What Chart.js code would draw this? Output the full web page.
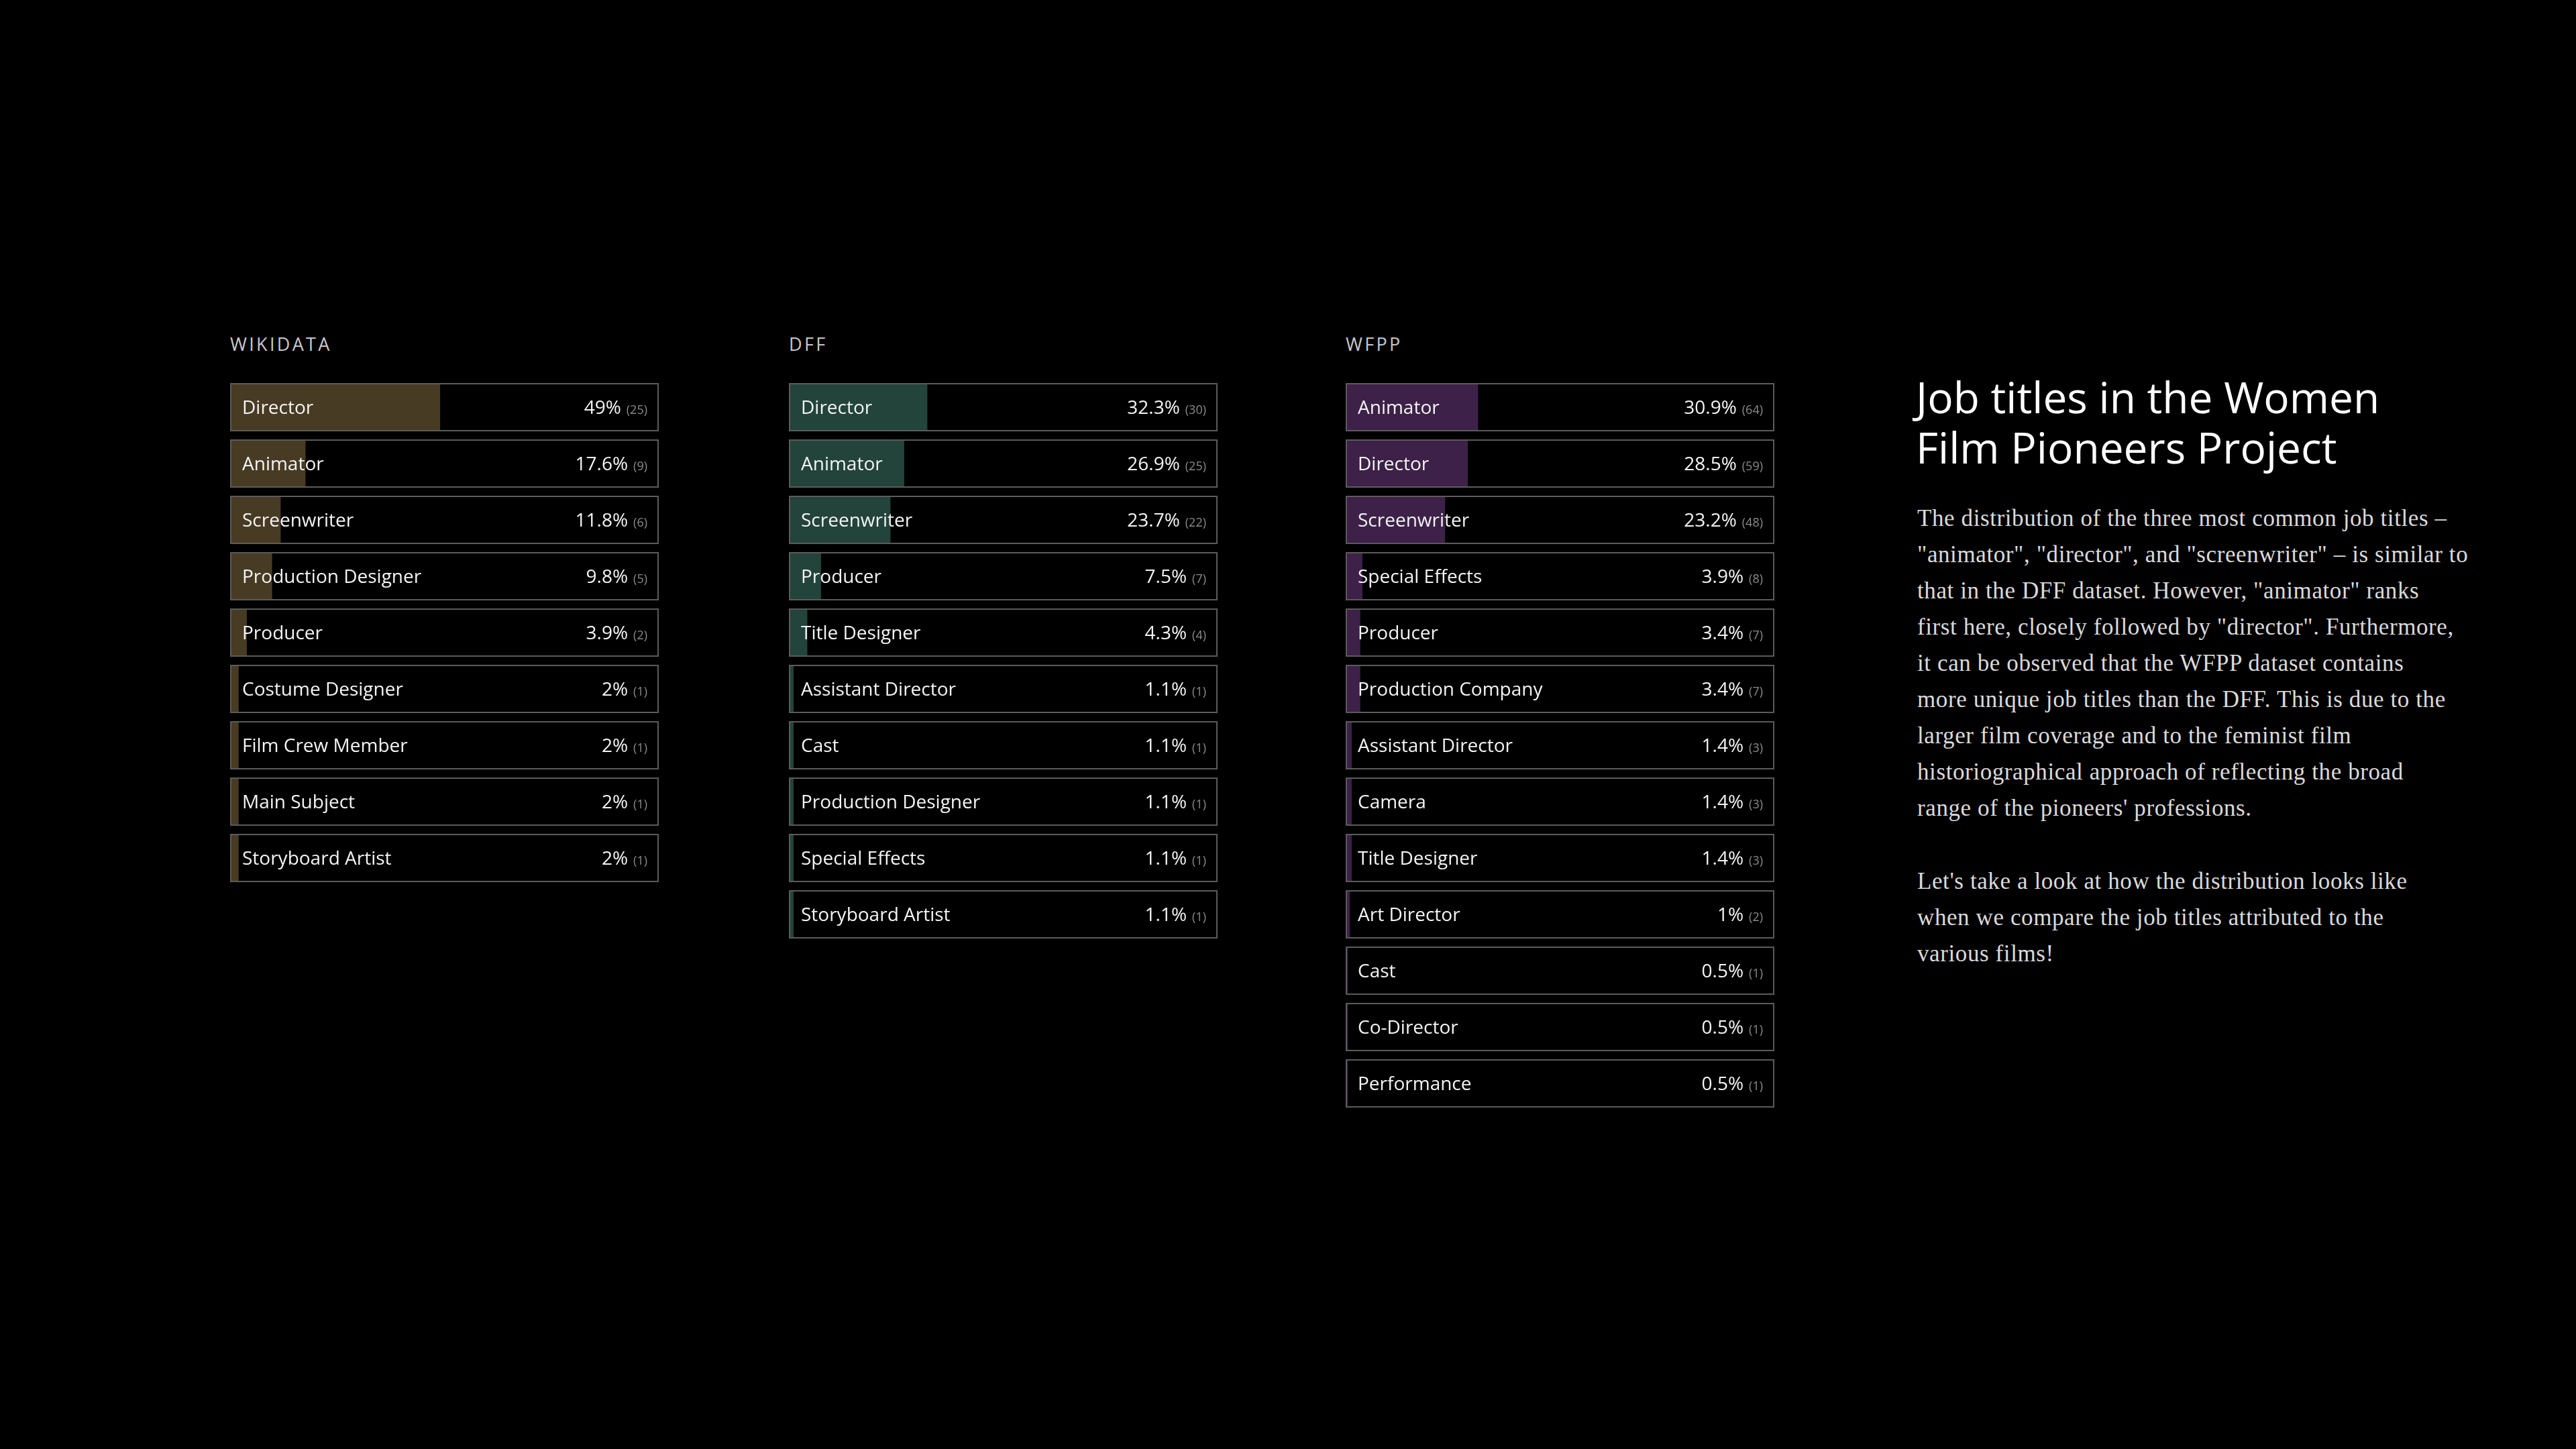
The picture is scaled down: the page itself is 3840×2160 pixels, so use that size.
<!DOCTYPE html>
<html>
<head>
<meta charset="utf-8">
<script src="https://cdn.jsdelivr.net/npm/chart.js@4.4.0/dist/chart.umd.min.js"></script>
<style>
html, body { margin: 0; padding: 0; background: #000; width: 3840px; height: 2160px; overflow: hidden; }
.panel-title { position: absolute; top: 494px; font-family: "Open Sans"; font-size: 27px; letter-spacing: 3.3px; color: #c8c8c8; }
.chart-box { position: absolute; top: 565px; width: 639px; }
#title { position: absolute; left: 2856px; top: 554px; font-family: "Open Sans"; font-size: 64px; line-height: 75px; color: #fff; white-space: nowrap; }
.para { position: absolute; left: 2858px; font-family: "Liberation Serif"; font-size: 35px; letter-spacing: 0.6px; line-height: 54px; color: #dadada; white-space: nowrap; }
</style>
</head>
<body>
<div class="panel-title" style="left:343px">WIKIDATA</div>
<div class="panel-title" style="left:1176px">DFF</div>
<div class="panel-title" style="left:2006px">WFPP</div>

<div class="chart-box" style="left:343px;height:756px"><canvas id="chart1"></canvas></div>
<div class="chart-box" style="left:1176px;height:840px"><canvas id="chart2"></canvas></div>
<div class="chart-box" style="left:2006px;height:1092px"><canvas id="chart3"></canvas></div>

<div id="title">Job titles in the Women<br>Film Pioneers Project</div>
<div class="para" style="top:746px">The distribution of the three most common job titles –<br>"animator", "director", and "screenwriter" – is similar to<br>that in the DFF dataset. However, "animator" ranks<br>first here, closely followed by "director". Furthermore,<br>it can be observed that the WFPP dataset contains<br>more unique job titles than the DFF. This is due to the<br>larger film coverage and to the feminist film<br>historiographical approach of reflecting the broad<br>range of the pioneers' professions.</div>
<div class="para" style="top:1287px">Let's take a look at how the distribution looks like<br>when we compare the job titles attributed to the<br>various films!</div>

<script>
const wikiLabels = ["Director", "Animator", "Screenwriter", "Production Designer", "Producer", "Costume Designer", "Film Crew Member", "Main Subject", "Storyboard Artist"];
const wikiPct = [49, 17.6, 11.8, 9.8, 3.9, 2, 2, 2, 2];
const wikiCount = [25, 9, 6, 5, 2, 1, 1, 1, 1];

const dffLabels = ["Director", "Animator", "Screenwriter", "Producer", "Title Designer", "Assistant Director", "Cast", "Production Designer", "Special Effects", "Storyboard Artist"];
const dffPct = [32.3, 26.9, 23.7, 7.5, 4.3, 1.1, 1.1, 1.1, 1.1, 1.1];
const dffCount = [30, 25, 22, 7, 4, 1, 1, 1, 1, 1];

const wfppLabels = ["Animator", "Director", "Screenwriter", "Special Effects", "Producer", "Production Company", "Assistant Director", "Camera", "Title Designer", "Art Director", "Cast", "Co-Director", "Performance"];
const wfppPct = [30.9, 28.5, 23.2, 3.9, 3.4, 3.4, 1.4, 1.4, 1.4, 1, 0.5, 0.5, 0.5];
const wfppCount = [64, 59, 48, 8, 7, 7, 3, 3, 3, 2, 1, 1, 1];

const FULL = 100;

// writes job title on the left and "pct% (count)" on the right of each row
const rowText = {
    id: 'rowText',
    afterDatasetsDraw(chart, args, opts) {
        const ctx = chart.ctx;
        const area = chart.chartArea;
        const meta = chart.getDatasetMeta(0);
        meta.data.forEach((bar, i) => {
            const y = bar.y + 10;
            ctx.save();
            ctx.textBaseline = 'alphabetic';
            ctx.font = '28px "Open Sans"';
            ctx.fillStyle = '#f4f4f4';
            ctx.textAlign = 'left';
            ctx.fillText(chart.data.labels[i], area.left + 18, y);
            const cnt = `(${opts.counts[i]})`;
            ctx.font = '18px "Open Sans"';
            ctx.fillStyle = '#8a8a8a';
            ctx.textAlign = 'right';
            ctx.fillText(cnt, area.right - 17, y);
            const w = ctx.measureText(cnt).width;
            ctx.font = '28px "Open Sans"';
            ctx.fillStyle = '#f4f4f4';
            ctx.fillText(`${opts.pct[i]}%`, area.right - 17 - w - 8, y);
            ctx.restore();
        });
    }
};

function newChart(id, labels, pct, counts, color) {
    new Chart(id, {
        type: 'bar',
        data: {
            labels: labels,
            datasets: [{
                data: pct,
                backgroundColor: color,
                borderWidth: 0,
                order: 1
            }, {
                data: labels.map(() => FULL),
                backgroundColor: 'rgba(0,0,0,0)',
                borderColor: '#5b5b5b',
                borderWidth: 2,
                borderSkipped: false,
                order: 0
            }]
        },
        options: {
            indexAxis: 'y',
            responsive: true,
            maintainAspectRatio: false,
            animation: false,
            grouped: false,
            barPercentage: 72 / 84,
            categoryPercentage: 1,
            layout: { padding: 0 },
            scales: {
                x: { display: false, min: 0, max: 100 },
                y: { display: false }
            },
            plugins: {
                legend: { display: false },
                tooltip: { enabled: false },
                rowText: { pct: pct, counts: counts }
            }
        },
        plugins: [rowText]
    });
}

document.fonts.load('28px "Open Sans"').then(() => {
    newChart('chart1', wikiLabels, wikiPct, wikiCount, '#483b23');
    newChart('chart2', dffLabels, dffPct, dffCount, '#22443a');
    newChart('chart3', wfppLabels, wfppPct, wfppCount, '#3d2148');
});
</script>
</body>
</html>
